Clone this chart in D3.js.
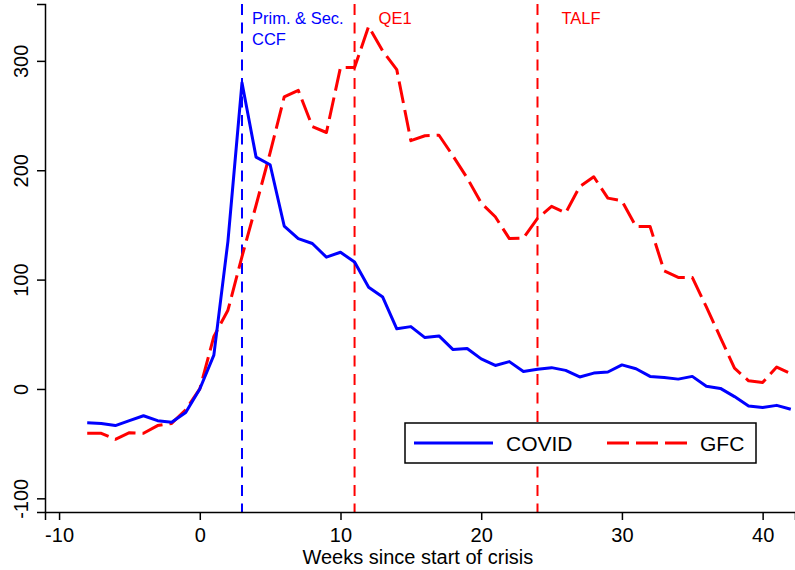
<!DOCTYPE html>
<html>
<head>
<meta charset="utf-8">
<script src="https://cdn.jsdelivr.net/npm/d3@7"></script>
<style>
  body { margin: 0; background: #fff; }
  svg { display: block; font-family: "Liberation Sans", Arial, Helvetica, sans-serif; }
</style>
</head>
<body>
<svg id="chart" width="795" height="570"></svg>
<script>
const weeks = d3.range(-8, 43);
const covid = [-31, -31.5, -33.5, -29, -24.5, -29, -30.5, -21.5, 0, 31, 135, 280, 212, 205, 149, 137.5, 133, 120.5, 125, 116, 93, 84, 55, 57, 47, 48.5, 36, 37, 27.5, 21.5, 25, 16, 18, 19.5, 17, 11, 14.5, 15.5, 22, 18.5, 11.5, 10.5, 9, 11.5, 2.5, 0.5, -7, -15.5, -17, -15, -18.5];
const gfc = [-40.5, -40.5, -46, -40, -40.5, -33.5, -31.5, -19, 0, 48, 72, 121, 168, 216, 267, 273, 240, 234.5, 294, 294, 331.5, 309, 292, 227, 231.5, 232, 213, 193, 170, 157.5, 137.5, 138, 156, 167, 161, 185, 194, 174.5, 172, 148.5, 148.5, 108, 102, 102, 75, 47, 19, 7.5, 6, 20, 14];
const xTicks = [-10, 0, 10, 20, 30, 40];
const yTicks = [-100, 0, 100, 200, 300];
const events = [
  { week: 3, lines: ["Prim. & Sec.", "CCF"], color: "#0000ff", offset: 10 },
  { week: 11, lines: ["QE1"], color: "#ff0000", offset: 24 },
  { week: 24, lines: ["TALF"], color: "#ff0000", offset: 24 }
];
const seriesNames = ["COVID", "GFC"];
const xLabel = "Weeks since start of crisis";

const svg = d3.select("#chart");
const x = d3.scaleLinear().domain([-11, 42.3]).range([45, 795]);
const y = d3.scaleLinear().domain([-112.5, 352]).range([512, 4]);
const fmt = d => String(d);

// event lines
events.forEach(ev => {
  svg.append("line")
    .attr("x1", x(ev.week)).attr("x2", x(ev.week))
    .attr("y1", y(352)).attr("y2", y(-112.5))
    .attr("stroke", ev.color).attr("stroke-width", 2)
    .attr("stroke-dasharray", "11,7.5");
  ev.lines.forEach((t, i) => {
    svg.append("text")
      .attr("x", x(ev.week) + ev.offset)
      .attr("y", 24 + i * 21)
      .attr("fill", ev.color)
      .attr("font-size", 16.5)
      .text(t);
  });
});

const line = d3.line().x(d => x(d[0])).y(d => y(d[1]));

svg.append("path")
  .datum(weeks.map((w, i) => [w, gfc[i]]))
  .attr("d", line)
  .attr("fill", "none").attr("stroke", "#ff0000").attr("stroke-width", 3)
  .attr("stroke-dasharray", "22,7").attr("stroke-linejoin", "round");

svg.append("path")
  .datum(weeks.map((w, i) => [w, covid[i]]))
  .attr("d", line)
  .attr("fill", "none").attr("stroke", "#0000ff").attr("stroke-width", 3)
  .attr("stroke-linejoin", "round");

// axes
const xAxis = svg.append("g").attr("transform", "translate(0,512)")
  .call(d3.axisBottom(x).tickValues(xTicks).tickSize(8).tickPadding(4).tickFormat(fmt));
const yAxis = svg.append("g").attr("transform", "translate(45,0)")
  .call(d3.axisLeft(y).tickValues(yTicks).tickSize(8).tickFormat(fmt));
[xAxis, yAxis].forEach(g => {
  g.select(".domain").attr("stroke", "#000").attr("stroke-width", 1.5);
  g.selectAll(".tick line").attr("stroke", "#000").attr("stroke-width", 1.5);
  g.selectAll("text").attr("font-size", 20).attr("fill", "#000")
    .attr("font-family", "'Liberation Sans', Arial, sans-serif");
});
xAxis.selectAll("text").attr("dy", "0.88em");
yAxis.selectAll(".tick text")
  .attr("x", null).attr("dy", null)
  .attr("text-anchor", "middle")
  .attr("transform", "translate(-17,0) rotate(-90)");

svg.append("text")
  .attr("x", x(15.5)).attr("y", 564)
  .attr("text-anchor", "middle").attr("font-size", 20)
  .text(xLabel);

// legend
const lg = svg.append("g");
lg.append("rect").attr("x", 405).attr("y", 423).attr("width", 351).attr("height", 40)
  .attr("fill", "#fff").attr("stroke", "#000").attr("stroke-width", 1.5);
lg.append("line").attr("x1", 414).attr("x2", 493).attr("y1", 443).attr("y2", 443)
  .attr("stroke", "#0000ff").attr("stroke-width", 3);
lg.append("text").attr("x", 506).attr("y", 451).attr("font-size", 21).text(seriesNames[0]);
lg.append("line").attr("x1", 607).attr("x2", 687).attr("y1", 443).attr("y2", 443)
  .attr("stroke", "#ff0000").attr("stroke-width", 3).attr("stroke-dasharray", "22,7");
lg.append("text").attr("x", 700).attr("y", 451).attr("font-size", 21).text(seriesNames[1]);
</script>
</body>
</html>
